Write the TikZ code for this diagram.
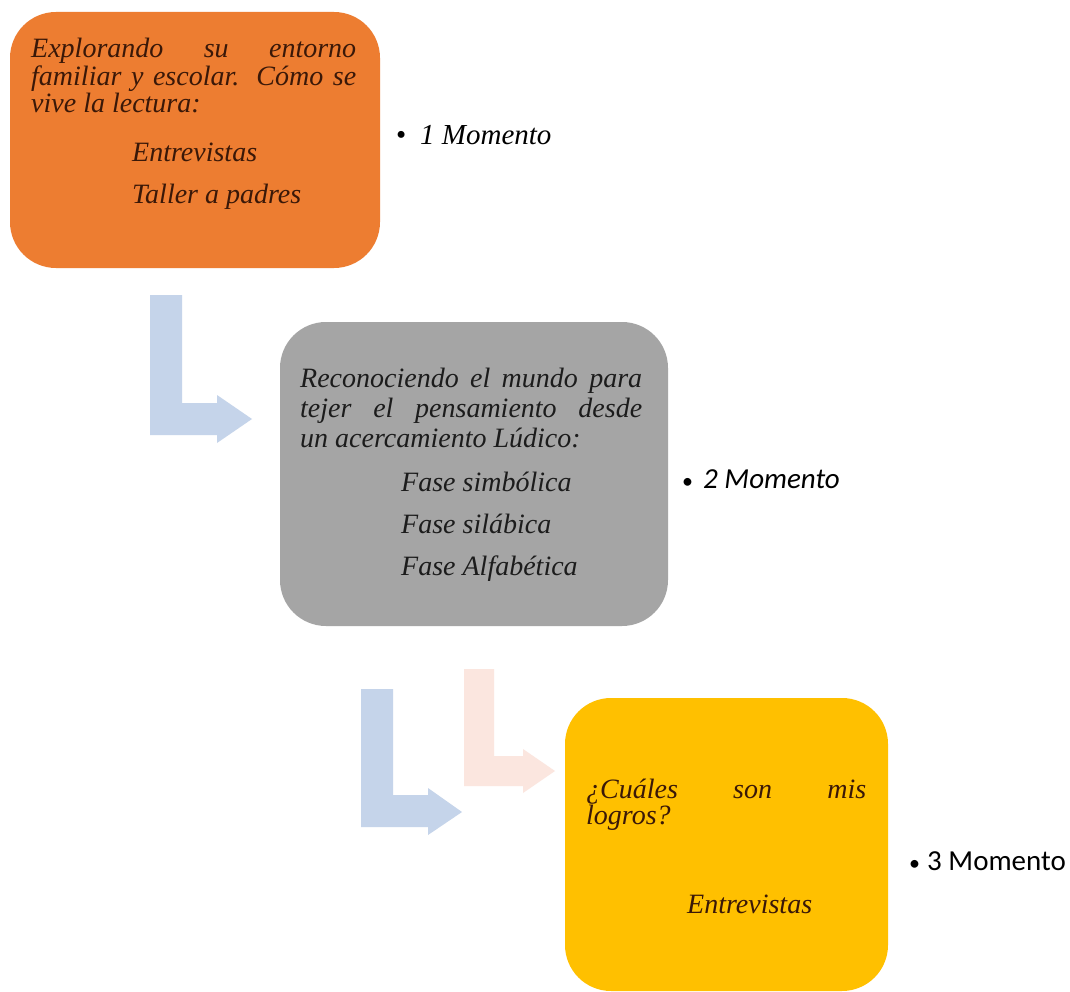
\documentclass[tikz,border=0pt]{standalone}
\usepackage{fontspec}
\setmainfont{Liberation Serif}
\newfontfamily\sansf{Carlito}
\definecolor{boxorange}{HTML}{ED7D31}
\definecolor{boxgrey}{HTML}{A5A5A5}
\definecolor{boxyellow}{HTML}{FFC000}
\definecolor{arrowblue}{HTML}{C5D4EA}
\definecolor{arrowpink}{HTML}{FBE6DF}
\definecolor{inkbrown}{HTML}{3A1808}
\definecolor{inkdark}{HTML}{1C1C1C}
\tikzset{
  stagebox/.style={rounded corners=46pt, draw=none, inner sep=0pt},
  boxtext/.style={anchor=base west, inner sep=0pt, font=\fontsize{28}{28}\selectfont\itshape},
  momentlabel/.style={anchor=base west, inner sep=0pt},
  bentarrow/.style={draw=none}
}
\begin{document}
\begin{tikzpicture}[x=1pt,y=-1pt]
\useasboundingbox (0,0) rectangle (1070,992);
\fill[white] (0,0) rectangle (1070,992);
% bent arrows
\fill[arrowblue, bentarrow] (150,295) -- (182,295) -- (182,403) -- (217,403) -- (217,395) -- (252,419) -- (217,443) -- (217,435) -- (150,435) -- cycle;
\fill[arrowblue, bentarrow] (361,689) -- (393,689) -- (393,795) -- (428,795) -- (428,788) -- (462,812) -- (428,835) -- (428,827) -- (361,827) -- cycle;
\fill[arrowpink, bentarrow] (464,669) -- (494,669) -- (494,756) -- (523,756) -- (523,749) -- (555,771) -- (523,793) -- (523,786) -- (464,786) -- cycle;
% boxes
\begin{scope}
\clip (0,0) rectangle (1070,992);
\fill[boxorange, stagebox] (10,12) rectangle (380,268);
\fill[boxgrey, stagebox] (280,322) rectangle (668,626);
\fill[boxyellow, stagebox] (565,698) rectangle (888,991);
\end{scope}
% box 1 text
\node[boxtext, text=inkbrown] (t1a) at (31,58) {\makebox[325pt][s]{Explorando su entorno}};
\node[boxtext, text=inkbrown] (t1b) at (31,86) {\makebox[325pt][s]{familiar y escolar. Cómo se}};
\node[boxtext, text=inkbrown] (t1c) at (31,113) {vive la lectura:};
\node[boxtext, text=inkbrown] (t1d) at (132,162) {Entrevistas};
\node[boxtext, text=inkbrown] (t1e) at (132,204) {Taller a padres};
% box 2 text
\node[boxtext, text=inkdark] (t2a) at (300,387) {\makebox[342pt][s]{Reconociendo el mundo para}};
\node[boxtext, text=inkdark] (t2b) at (300,417) {\makebox[342pt][s]{tejer el pensamiento desde}};
\node[boxtext, text=inkdark] (t2c) at (300,447) {un acercamiento Lúdico:};
\node[boxtext, text=inkdark] (t2d) at (401,491) {Fase simbólica};
\node[boxtext, text=inkdark] (t2e) at (401,533) {Fase silábica};
\node[boxtext, text=inkdark] (t2f) at (401,575) {Fase Alfabética};
% box 3 text
\node[boxtext, text=inkbrown] (t3a) at (586,798) {\makebox[280pt][s]{¿Cuáles son mis}};
\node[boxtext, text=inkbrown] (t3b) at (586,824) {logros?};
\node[boxtext, text=inkbrown] (t3c) at (687,913) {Entrevistas};
% moment labels
\node[momentlabel, font=\fontsize{29}{29}\selectfont] (m1b) at (396,145) {•};
\node[momentlabel, font=\fontsize{29}{29}\selectfont\itshape] (m1) at (420,145) {1 Momento};
\node[momentlabel, font=\sansf\fontsize{22}{22}\selectfont] (m2b) at (682,488) {•};
\node[momentlabel, font=\sansf\fontsize{29}{29}\selectfont\itshape] (m2) at (703,488) {2 Momento};
\node[momentlabel, font=\sansf\fontsize{22}{22}\selectfont] (m3b) at (909,870) {•};
\node[momentlabel, font=\sansf\fontsize{29}{29}\selectfont] (m3) at (927,870) {3 Momento};
\end{tikzpicture}
\end{document}
